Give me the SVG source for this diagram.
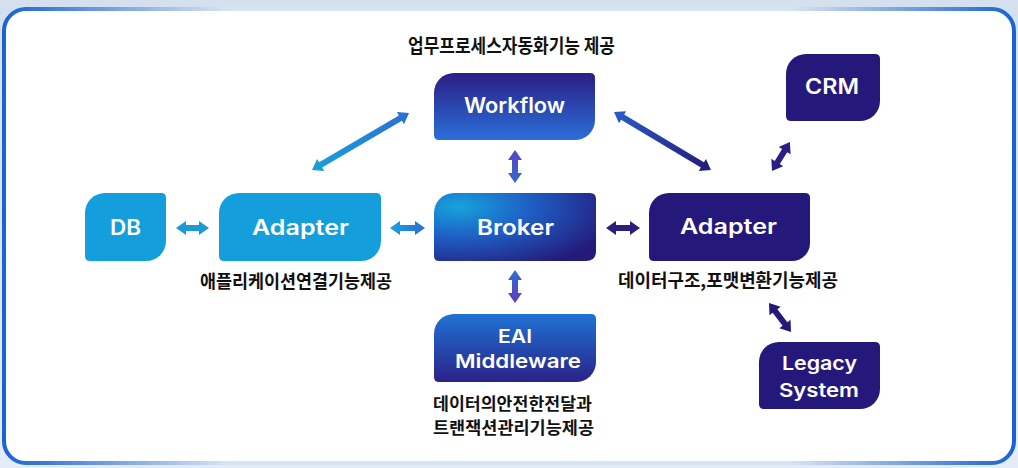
<svg xmlns="http://www.w3.org/2000/svg" width="1018" height="468" viewBox="0 0 1018 468">
  <defs>
    <style>
      .node-text { font-family: Inter, "Noto Sans", sans-serif; font-weight: 600; font-size: 21px; fill: #ffffff; text-anchor: middle; }
      .label { font-family: "Noto Sans CJK KR", "Noto Sans", sans-serif; font-weight: 700; font-size: 18px; fill: #111111; }
      .cyan { fill: #149fdc; }
      .navy { fill: #24197a; }
    </style>
    <linearGradient id="bg" x1="0" y1="0" x2="0" y2="1">
      <stop offset="0" stop-color="#d5e0ee"/>
      <stop offset="1" stop-color="#e3ecf7"/>
    </linearGradient>
    <linearGradient id="border" x1="0" y1="0" x2="1" y2="0">
      <stop offset="0" stop-color="#1a63d4"/>
      <stop offset="0.22" stop-color="#d6e3f3"/>
      <stop offset="0.78" stop-color="#d6e3f3"/>
      <stop offset="1" stop-color="#1a63d4"/>
    </linearGradient>
    <linearGradient id="wfGrad" x1="0" y1="0" x2="0" y2="1">
      <stop offset="0" stop-color="#2a1e84"/>
      <stop offset="1" stop-color="#2b6fd8"/>
    </linearGradient>
    <linearGradient id="eaiGrad" x1="0" y1="0" x2="0" y2="1">
      <stop offset="0" stop-color="#1f72d4"/>
      <stop offset="1" stop-color="#2a2288"/>
    </linearGradient>
    <radialGradient id="brokerGrad" cx="0.15" cy="0.2" r="1.0">
      <stop offset="0" stop-color="#16a3dc"/>
      <stop offset="0.45" stop-color="#1f5ec4"/>
      <stop offset="1" stop-color="#241a7a"/>
    </radialGradient>
    <linearGradient id="aCyanBlue" x1="0" y1="0" x2="1" y2="0">
      <stop offset="0" stop-color="#18a2dc"/>
      <stop offset="1" stop-color="#2b6ed2"/>
    </linearGradient>
    <linearGradient id="aBlueNavy" x1="0" y1="0" x2="1" y2="0">
      <stop offset="0" stop-color="#2a5cc8"/>
      <stop offset="1" stop-color="#231a7a"/>
    </linearGradient>
    <linearGradient id="aVert1" x1="0" y1="0" x2="1" y2="0">
      <stop offset="0" stop-color="#5a44c2"/>
      <stop offset="1" stop-color="#3268cc"/>
    </linearGradient>
    <linearGradient id="aVert2" x1="0" y1="0" x2="1" y2="0">
      <stop offset="0" stop-color="#2a70d2"/>
      <stop offset="1" stop-color="#5e3cc0"/>
    </linearGradient>
  </defs>

  <rect x="0" y="0" width="1018" height="468" fill="url(#bg)"/>
  <rect x="4" y="9" width="1010" height="454" rx="22" fill="#ffffff" stroke="url(#border)" stroke-width="4"/>

  <g id="connectors">
    <polygon transform="translate(312,170) rotate(-30.4)" fill="url(#aCyanBlue)" points="0,0 10,-7 10,-3 102.5,-3 102.5,-7 112.5,0 102.5,7 102.5,3 10,3 10,7"/>
    <polygon transform="translate(614,112) rotate(30.9)" fill="url(#aBlueNavy)" points="0,0 10,-7 10,-3 103,-3 103,-7 113,0 103,7 103,3 10,3 10,7"/>
    <polygon transform="translate(772,171) rotate(-58.2)" fill="#2a1f86" points="0,0 10,-7 10,-3 24,-3 24,-7 34,0 24,7 24,3 10,3 10,7"/>
    <polygon transform="translate(515,150) rotate(90)" fill="url(#aVert1)" points="0,0 10,-7 10,-3 23,-3 23,-7 33,0 23,7 23,3 10,3 10,7"/>
    <polygon transform="translate(515,270) rotate(90)" fill="url(#aVert2)" points="0,0 10,-7 10,-3 23,-3 23,-7 33,0 23,7 23,3 10,3 10,7"/>
    <polygon transform="translate(176,228)" fill="#1b9ad8" points="0,0 10,-7 10,-3 23,-3 23,-7 33,0 23,7 23,3 10,3 10,7"/>
    <polygon transform="translate(390,228)" fill="url(#aCyanBlue)" points="0,0 10,-7 10,-3 25,-3 25,-7 35,0 25,7 25,3 10,3 10,7"/>
    <polygon transform="translate(606,228)" fill="#2b1f7e" points="0,0 10,-7 10,-3 24,-3 24,-7 34,0 24,7 24,3 10,3 10,7"/>
    <polygon transform="translate(769,303) rotate(52.8)" fill="#24197a" points="0,0 10,-7 10,-3 26.4,-3 26.4,-7 36.4,0 26.4,7 26.4,3 10,3 10,7"/>
  </g>

  <g id="workflow">
    <path fill="url(#wfGrad)" d="M454,73 H590 Q595,73 595,78 V120 A20,20 0 0 1 575,140 H439 Q434,140 434,135 V93 A20,20 0 0 1 454,73 Z"/>
    <text class="node-text" x="514.5" y="113" textLength="101" lengthAdjust="spacingAndGlyphs">Workflow</text>
  </g>

  <g id="db">
    <path class="cyan" d="M105,193 H161 Q166,193 166,198 V241 A20,20 0 0 1 146,261 H90 Q85,261 85,256 V213 A20,20 0 0 1 105,193 Z"/>
    <text class="node-text" x="125.5" y="235" textLength="31" lengthAdjust="spacingAndGlyphs">DB</text>
  </g>

  <g id="adapter-left">
    <path class="cyan" d="M239,193 H376 Q381,193 381,198 V241 A20,20 0 0 1 361,261 H224 Q219,261 219,256 V213 A20,20 0 0 1 239,193 Z"/>
    <text class="node-text" x="300.5" y="235" textLength="97" lengthAdjust="spacingAndGlyphs">Adapter</text>
  </g>

  <g id="broker">
    <path fill="url(#brokerGrad)" d="M454,193 H590 Q596,193 596,199 V251 Q596,261 586,261 H439 Q434,261 434,256 V213 A20,20 0 0 1 454,193 Z"/>
    <text class="node-text" x="515.5" y="235" textLength="77" lengthAdjust="spacingAndGlyphs">Broker</text>
  </g>

  <g id="adapter-right">
    <path class="navy" d="M669,193 H805 Q810,193 810,198 V243 A18,18 0 0 1 792,261 H654 Q649,261 649,256 V213 A20,20 0 0 1 669,193 Z"/>
    <text class="node-text" x="728.5" y="234" textLength="97" lengthAdjust="spacingAndGlyphs">Adapter</text>
  </g>

  <g id="crm">
    <path class="navy" d="M806,54 H875 Q880,54 880,59 V101 A20,20 0 0 1 860,121 H791 Q786,121 786,116 V74 A20,20 0 0 1 806,54 Z"/>
    <text class="node-text" x="832" y="94" textLength="54" lengthAdjust="spacingAndGlyphs">CRM</text>
  </g>

  <g id="legacy-system">
    <path class="navy" d="M779,342 H875 Q880,342 880,347 V389 A20,20 0 0 1 860,409 H764 Q759,409 759,404 V362 A20,20 0 0 1 779,342 Z"/>
    <text class="node-text" x="819.5" y="370" style="font-size:19px" textLength="75" lengthAdjust="spacingAndGlyphs">Legacy</text>
    <text class="node-text" x="819" y="397" style="font-size:19px" textLength="80" lengthAdjust="spacingAndGlyphs">System</text>
  </g>

  <g id="eai-middleware">
    <path fill="url(#eaiGrad)" d="M454,314 H591 Q596,314 596,319 V362 A20,20 0 0 1 576,382 H439 Q434,382 434,377 V334 A20,20 0 0 1 454,314 Z"/>
    <text class="node-text" x="515" y="343" style="font-size:19px" textLength="34" lengthAdjust="spacingAndGlyphs">EAI</text>
    <text class="node-text" x="518" y="368" style="font-size:19px" textLength="126" lengthAdjust="spacingAndGlyphs">Middleware</text>
  </g>

  <g id="labels">
    <text class="label" x="408" y="53" textLength="207" lengthAdjust="spacingAndGlyphs" style="font-size:19px">업무프로세스자동화기능 제공</text>
    <text class="label" x="200" y="288" textLength="192" lengthAdjust="spacingAndGlyphs">애플리케이션연결기능제공</text>
    <text class="label" x="618" y="287" textLength="220" lengthAdjust="spacingAndGlyphs">데이터구조,포맷변환기능제공</text>
    <text class="label" style="font-size:17px"><tspan x="433" y="410" textLength="159" lengthAdjust="spacingAndGlyphs">데이터의안전한전달과</tspan><tspan x="433" y="434" textLength="161" lengthAdjust="spacingAndGlyphs">트랜잭션관리기능제공</tspan></text>
  </g>
</svg>
